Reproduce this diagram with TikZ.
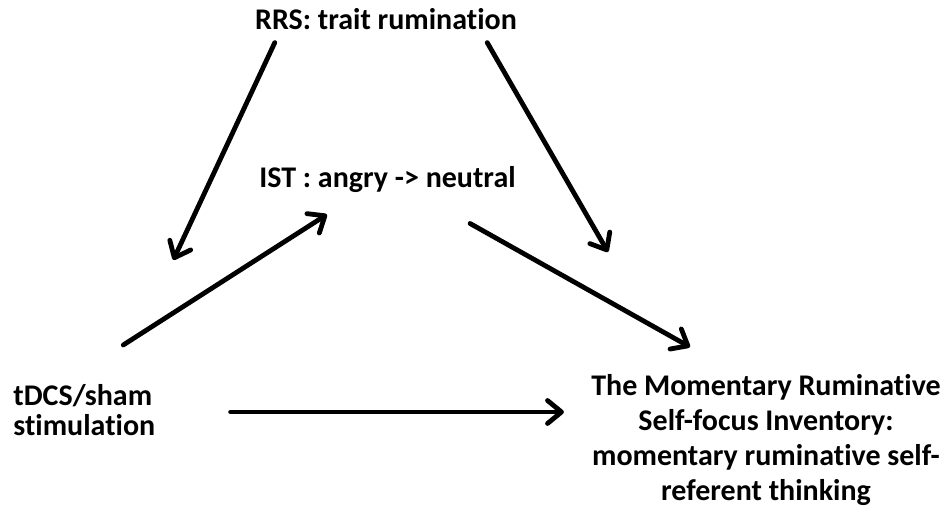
\documentclass[tikz,border=0pt]{standalone}
\usepackage{fontspec}
\setmainfont{Carlito}[Ligatures=NoCommon]
\usepackage{tikz}
\usetikzlibrary{calc, positioning, arrows.meta}

\begin{document}
\begin{tikzpicture}[x=0.5pt, y=-0.5pt,
        lbl/.style={inner sep=0, font=\fontsize{15}{17.5}\selectfont\bfseries, align=center},
        arr/.style={line width=2.4pt, line cap=round, -{Straight Barb[length=7pt, width=11.5pt, line cap=round, line join=round]}}]
        \useasboundingbox (0,0) rectangle (944,519);

        \node[lbl, anchor=base] (rrs) at (386,30) {RRS: trait rumination};
        \node[lbl, anchor=base] (ist) at (387.5,188) {IST : angry -> neutral};
        \node[lbl, anchor=west, align=left, font=\fontsize{15}{15}\selectfont\bfseries] (tdcs) at (13,410) {tDCS/sham\\stimulation};
        \node[lbl] (mrsi) at (766,440) {The Momentary Ruminative\\Self-focus Inventory:\\momentary ruminative self-\\referent thinking};

        % lines
        % trait rumination
        \draw[arr] ($(rrs.south west) + (20,12)$) -- ($(tdcs.north) + (89,-124)$);
        \draw[arr] ($(rrs.south east) + (-30,12)$) -- ($(mrsi.north) + (-158,-122)$);

        % stimulation
        \draw[arr] ($(tdcs.north) + (39,-39)$) -- ($(ist.south west) + (68,21)$);
        \draw[arr] ($(tdcs.east) + (75,2)$) -- ($(mrsi.west |- tdcs.east) + (-27,2)$);

        % induction
        \draw[arr] ($(ist.south east) + (-46,30)$) -- ($(mrsi.north) + (-76,-27)$);
\end{tikzpicture}
\end{document}
